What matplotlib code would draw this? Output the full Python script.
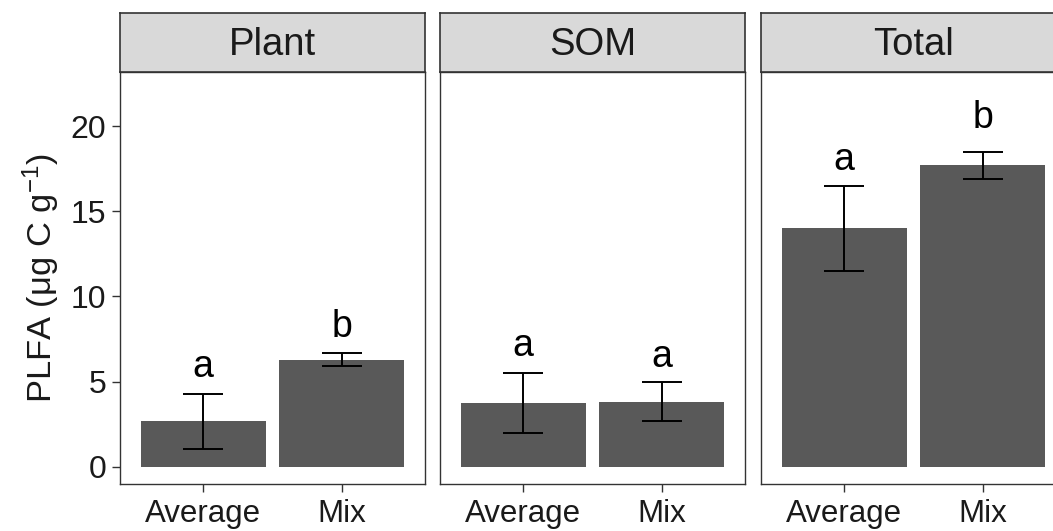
import matplotlib
matplotlib.use("Agg")
import matplotlib.pyplot as plt
import numpy as np

plt.rcParams['font.family'] = ['Liberation Sans', 'DejaVu Sans']
plt.rcParams['mathtext.fontset'] = 'custom'
plt.rcParams['mathtext.rm'] = 'Liberation Sans'
plt.rcParams['mathtext.it'] = 'Liberation Sans:italic'

facets = ['Plant', 'SOM', 'Total']
groups = ['Average', 'Mix']
means = {'Plant': [2.68, 6.30], 'SOM': [3.76, 3.83], 'Total': [14.0, 17.7]}
errs = {'Plant': [1.6, 0.40], 'SOM': [1.78, 1.16], 'Total': [2.48, 0.78]}
letters = {'Plant': ['a', 'b'], 'SOM': ['a', 'a'], 'Total': ['a', 'b']}
letter_y = {'Plant': [5.25, 7.6], 'SOM': [6.5, 5.85], 'Total': [17.4, 19.9]}
yticks = [0, 5, 10, 15, 20]

W, H = 1053, 531
fig = plt.figure(figsize=(W / 100, H / 100), dpi=100)

lefts = [120, 440, 761]
pw = 305
ptop, pbot = 72, 484
stop = 13
edge = '#333333'

for i, f in enumerate(facets):
    ax = fig.add_axes([lefts[i] / W, (H - pbot) / H, pw / W, (pbot - ptop) / H])
    x = np.arange(1, len(groups) + 1)
    ax.bar(x, means[f], width=0.9, color='#595959', zorder=2)
    ax.errorbar(x, means[f], yerr=errs[f], fmt='none', ecolor='black',
                elinewidth=1.4, capsize=14.5, capthick=1.4, zorder=3)
    for xi, t, ly in zip(x, letters[f], letter_y[f]):
        ax.text(xi, ly, t, ha='center', va='baseline', fontsize=27, color='black')
    ax.set_xlim(0.4, 2.6)
    ax.set_ylim(-1.0, 23.17)
    ax.set_xticks(x)
    ax.set_xticklabels(groups)
    ax.set_yticks(yticks)
    ax.tick_params(axis='both', direction='out', length=5.5, width=1, color=edge,
                   labelsize=22.5, labelcolor='#1a1a1a')
    ax.tick_params(axis='x', pad=5.5)
    ax.tick_params(axis='y', pad=4.5, labelsize=23)
    if i > 0:
        ax.tick_params(axis='y', left=False, labelleft=False)
    else:
        ax.set_ylabel('PLFA (μg C g$^{-1}$)', fontsize=24.8, color='#1a1a1a', labelpad=6)
    for s in ax.spines.values():
        s.set_color(edge)
        s.set_linewidth(1.0)

    sax = fig.add_axes([lefts[i] / W, (H - ptop) / H, pw / W, (ptop - stop) / H])
    sax.set_facecolor('#d9d9d9')
    sax.set_xticks([])
    sax.set_yticks([])
    for s in sax.spines.values():
        s.set_color(edge)
        s.set_linewidth(1.2)
    sax.text(0.5, 0.46, f, ha='center', va='center', fontsize=27.5,
             color='#1a1a1a', transform=sax.transAxes)

fig.savefig('out.png', dpi=100)
